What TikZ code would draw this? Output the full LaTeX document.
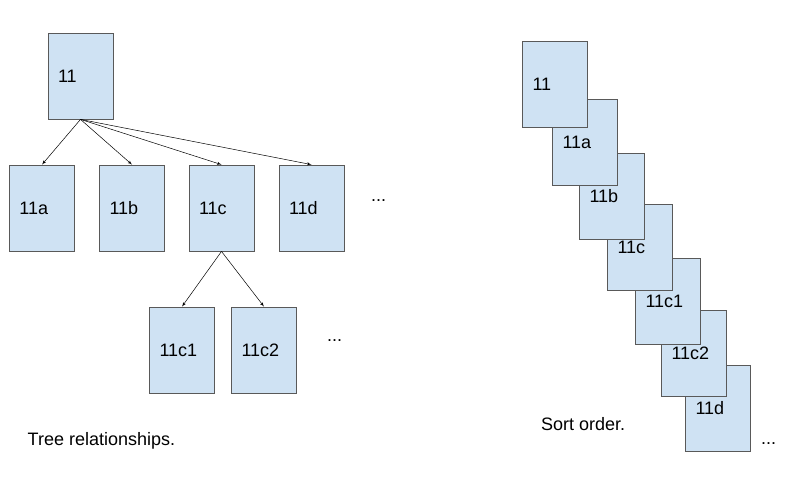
\documentclass[tikz,border=0pt]{standalone}
\usepackage{fontspec}
\setmainfont{Liberation Sans}
\usepackage{tikz}
\usetikzlibrary{arrows}
\definecolor{boxfill}{HTML}{CFE2F3}
\definecolor{boxline}{HTML}{595959}

\begin{document}
\begin{tikzpicture}[x=1pt,y=-1pt]
      \tikzset{page/.style = {shape=rectangle,draw=boxline,fill=boxfill,line width=0.8pt,
        minimum width=65pt,minimum height=86pt,inner xsep=10pt,text width=45pt,align=left,
        font=\fontsize{18}{21}\selectfont}}
      \tikzset{edge/.style = {-,> = latex',line width=0.5pt}}
      \tikzset{note/.style = {inner sep=0pt,anchor=base west,font=\fontsize{18}{21}\selectfont}}
      \useasboundingbox (0,0) rectangle (800,500);

      \node[page] (r) at (80.5, 76) {11};

      \node[page] (a) at (42, 208) {11a};
      \node[page] (b) at (132, 208) {11b};
      \node[page] (c) at (221.5, 208) {11c};
      \node[page] (d) at (311.5, 208) {11d};
      \node[note] (dots1) at (371, 201) {...};

      \node[page] (e) at (182, 350) {11c1};
      \node[page] (f) at (264, 350) {11c2};
      \node[note] (dots2) at (327, 341) {...};

      \node[note] (tree) at (27.5, 445) {Tree relationships.};

      \draw[edge,->] (r.south) to (a.north);
      \draw[edge,->] (r.south) to (b.north);
      \draw[edge,->] (r.south) to (c.north);
      \draw[edge,->] (r.south) to (d.north);
      \draw[edge,->] (c.south) to (e.north);
      \draw[edge,->] (c.south) to (f.north);

      \node[page] (sd) at (718, 408) {11d};
      \node[page] (sf) at (694, 353) {11c2};
      \node[page] (se) at (668, 301) {11c1};
      \node[page] (sc) at (640, 247) {11c};
      \node[page] (sb) at (612, 196) {11b};
      \node[page] (sa) at (585, 142) {11a};
      \node[page] (sr) at (555, 84) {11};
      \node[note] (dots3) at (761, 444) {...};

      \node[note] (sort) at (541, 430) {Sort order.};
\end{tikzpicture}
\end{document}
